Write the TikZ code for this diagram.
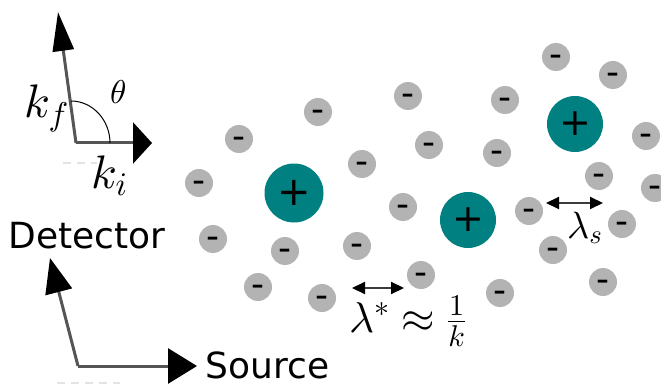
\documentclass[tikz,border=0pt]{standalone}
\usepackage{fontspec}
\DeclareFontShape{OML}{cmm}{m}{it}{<->cmmi10}{}
\DeclareFontShape{OMS}{cmsy}{m}{n}{<->cmsy10}{}
\DeclareFontShape{OT1}{cmr}{m}{n}{<->cmr10}{}
\newfontfamily\dejavu{DejaVu Sans}
\usetikzlibrary{arrows.meta}
\definecolor{ionteal}{RGB}{0,128,128}
\definecolor{iongray}{RGB}{179,179,179}
\definecolor{arrowgray}{RGB}{85,85,85}
\definecolor{lamgray}{RGB}{60,60,60}
\begin{document}
\begin{tikzpicture}[x=1pt,y=-1pt,
  anion/.style={circle,fill=iongray,minimum size=28pt,inner sep=0pt,
    font=\dejavu\fontsize{36}{36}\selectfont,text height=19.6pt,text depth=0pt},
  cation/.style={circle,fill=ionteal,minimum size=56pt,inner sep=0pt,
    font=\dejavu\fontsize{38}{38}\selectfont},
  karrow/.style={draw=arrowgray,line width=3pt},
  lamarrow/.style={draw=lamgray,line width=2pt,
    {Triangle[length=13pt,width=12pt,color=black]}-{Triangle[length=13pt,width=12pt,color=black]}},
  faint/.style={draw=gray!22,line width=1.5pt,dash pattern=on 8pt off 6pt},
  lab/.style={anchor=base west,inner sep=0pt},
  word/.style={anchor=base west,inner sep=0pt,font=\dejavu\fontsize{36}{36}\selectfont}
]
\useasboundingbox (0,0) rectangle (661,385);
\clip (0,0) rectangle (661,385);

% ions
\node[cation,minimum size=59pt,font=\dejavu\fontsize{40}{40}\selectfont] (p1) at (294,193) {+};
\node[cation] (p2) at (468,220) {+};
\node[cation] (p3) at (575,124) {+};

\node[anion] (n1) at (239,139) {-};
\node[anion] (n2) at (318,112) {-};
\node[anion] (n3) at (408,96) {-};
\node[anion] (n4) at (429,145) {-};
\node[anion] (n5) at (199,183) {-};
\node[anion] (n6) at (362,164) {-};
\node[anion] (n7) at (403,207) {-};
\node[anion] (n8) at (213,239) {-};
\node[anion] (n9) at (285,251) {-};
\node[anion] (n10) at (357,246) {-};
\node[anion] (n11) at (258,287) {-};
\node[anion] (n12) at (322,298) {-};
\node[anion] (n13) at (421,275) {-};
\node[anion] (n14) at (556,57) {-};
\node[anion] (n15) at (613,75) {-};
\node[anion] (n16) at (505,100) {-};
\node[anion] (n17) at (497,153) {-};
\node[anion] (n18) at (646,136) {-};
\node[anion] (n19) at (599,176) {-};
\node[anion] (n20) at (655,188) {-};
\node[anion] (n21) at (529,211) {-};
\node[anion] (n22) at (622,224) {-};
\node[anion] (n23) at (553,250) {-};
\node[anion] (n24) at (500,293) {-};
\node[anion] (n25) at (603,282) {-};

% length scales
\coordinate (ls1) at (546,203);
\coordinate (ls2) at (603,203);
\draw[lamarrow] (ls1) -- (ls2);
\node[lab,font=\fontsize{38}{38}\selectfont] (lamS) at (567,238) {$\lambda_s$};

\coordinate (la1) at (352,288);
\coordinate (la2) at (404,288);
\draw[lamarrow] (la1) -- (la2);
\node[lab,font=\fontsize{43}{43}\selectfont] (lamStar) at (349,332) {$\lambda^*\approx\frac{1}{k}$};

% wave vectors
\coordinate (o) at (76,143);
\coordinate (kf) at (58,12);
\coordinate (ki) at (152,143);
\draw[karrow,-{Triangle[length=39pt,width=21pt,color=black]}] (o) -- (kf);
\draw[karrow,-{Triangle[length=19pt,width=41pt,color=black]}] (o) -- (ki);
\coordinate (a1) at (110,143);
\coordinate (a2) at (71,101);
\draw[line width=1pt] (a1) .. controls (110,120) and (92.5,101) .. (a2);
\node[lab,font=\fontsize{47}{47}\selectfont] (kfl) at (24,118) {$k_f$};
\node[lab,font=\fontsize{33}{33}\selectfont] (thl) at (110,104) {$\theta$};
\node[lab,font=\fontsize{47}{47}\selectfont] (kil) at (91,188) {$k_i$};
\coordinate (fa1) at (63,163);
\coordinate (fa2) at (97,163);
\draw[faint] (fa1) -- (fa2);

% detector / source axes
\node[word] (det) at (8.5,248) {Detector};
\node[word] (src) at (205.5,378) {Source};
\coordinate (c) at (78,366);
\coordinate (dt) at (50,258);
\coordinate (st) at (197,366);
\draw[karrow,-{Triangle[length=35pt,width=27pt,color=black]}] (c) -- (dt);
\draw[karrow,-{Triangle[length=29pt,width=35pt,color=black]}] (c) -- (st);
\coordinate (fb1) at (57,383);
\coordinate (fb2) at (120,383);
\draw[faint] (fb1) -- (fb2);
\end{tikzpicture}
\end{document}
